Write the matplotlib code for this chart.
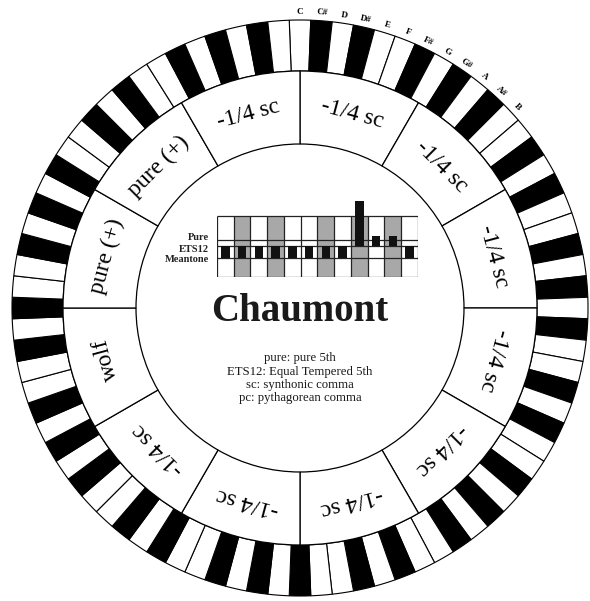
import numpy as np
import matplotlib.pyplot as plt

plt.rcParams['font.family'] = 'serif'
plt.rcParams['font.serif'] = ['Liberation Serif', 'DejaVu Serif']

# ---- data ----
notes = ['C', 'C#', 'D', 'D#', 'E', 'F', 'F#', 'G', 'G#', 'A', 'A#', 'B']
black_keys = ['C#', 'D#', 'F#', 'G#', 'A#']
octaves = 7

# fifths, clockwise from the top
fifth_labels = ['-1/4 sc', '-1/4 sc', '-1/4 sc', '-1/4 sc', '-1/4 sc', '-1/4 sc',
                '-1/4 sc', '-1/4 sc', 'wolf', 'pure (+)', 'pure (+)', '-1/4 sc']

# small chart: size of each fifth relative to ET12 (picture units)
level_names = ['Pure', 'ETS12', 'Meantone']
level_values = [1.0, 0.0, -2.0]
deviation = [-2.0, -2.0, -2.0, -2.0, -2.0, -2.0, -2.0, -2.0, 7.5, 1.7, 1.7, -2.0]

title = 'Chaumont'
legend_lines = ['pure: pure 5th', 'ETS12: Equal Tempered 5th',
                'sc: synthonic comma', 'pc: pythagorean comma']

# ---- layout (pixels, from top-left) ----
W, H = 590, 601
CX, CY = 300, 308
R_OUT, R_MID, R_IN = 288, 237, 164
R_LIM = 300


def fig_box(x0, y0, x1, y1):
    return [x0 / W, 1 - y1 / H, (x1 - x0) / W, (y1 - y0) / H]


fig = plt.figure(figsize=(W / 100, H / 100), dpi=100)
fig.patch.set_facecolor('white')

ax = fig.add_axes(fig_box(CX - R_LIM, CY - R_LIM, CX + R_LIM, CY + R_LIM), projection='polar')
ax.set_theta_zero_location('N')
ax.set_theta_direction(-1)
ax.set_ylim(0, R_LIM)
ax.axis('off')

# keyboard ring
n_keys = 12 * octaves
step = 2 * np.pi / n_keys
theta = np.arange(n_keys) * step
key_notes = [notes[i % 12] for i in range(n_keys)]
key_colors = ['black' if n in black_keys else 'white' for n in key_notes]
ax.bar(theta, R_OUT - R_MID, width=step, bottom=R_MID, color=key_colors,
       edgecolor='black', linewidth=0.8)

for i, n in enumerate(notes):
    ax.text(theta[i], R_OUT + 8, n, rotation=-np.degrees(theta[i]),
            rotation_mode='anchor', ha='center', va='center',
            fontsize=6.5, fontweight='bold')

# ring of fifths
seg = 2 * np.pi / 12
seg_theta = (np.arange(12) + 0.5) * seg
ax.bar(seg_theta, R_MID - R_IN, width=seg, bottom=R_IN, color='white',
       edgecolor='black', linewidth=0.9)
for t, lab in zip(seg_theta, fifth_labels):
    ax.text(t, (R_MID + R_IN) / 2, lab, rotation=-np.degrees(t),
            rotation_mode='anchor', ha='center', va='center', fontsize=17)

# small comparison chart in the centre
GX0, GX1 = 217, 418
GY_TOP, GY_BOT, ET_Y, AX_TOP = 216, 277, 246, 196
unit = 6.0
grid_top = (ET_Y - GY_TOP) / unit
grid_bot = -(GY_BOT - ET_Y) / unit

bx = fig.add_axes(fig_box(GX0, AX_TOP, GX1, GY_BOT))
bx.set_xlim(0, 12)
bx.set_ylim(grid_bot, (ET_Y - AX_TOP) / unit)
bx.axis('off')

xs = np.arange(12) + 0.5
col_colors = ['#a8a8a8' if n in black_keys else 'white' for n in notes]
bx.bar(xs, grid_top - grid_bot, bottom=grid_bot, width=1, color=col_colors,
       edgecolor='none', zorder=1)
bx.vlines(np.arange(13), grid_bot, grid_top, color='#222222', linewidth=0.9, zorder=2)
bx.hlines([grid_top] + level_values + [grid_bot], 0, 12, color='#222222',
          linewidth=0.9, zorder=2)
bx.bar(xs, deviation, width=0.5, color='#111111', zorder=3)
label_shift = [0.42, -0.5, -0.17]
for name, v, dv in zip(level_names, level_values, label_shift):
    bx.text(-0.48, v + dv, name, ha='right', va='center', fontsize=7.5,
            fontweight='bold', color='#222222')

# title and legend
fig.text(CX / W, 1 - 321 / H, title, ha='center', va='baseline',
         fontsize=28, fontweight='bold', color='#1a1a1a')
for y, line in zip([358, 371.5, 385, 398.5], legend_lines):
    fig.text(CX / W, 1 - y / H, line, ha='center', va='center', fontsize=9.2,
             color='#1a1a1a')

fig.savefig('out.png', dpi=100, facecolor='white')
